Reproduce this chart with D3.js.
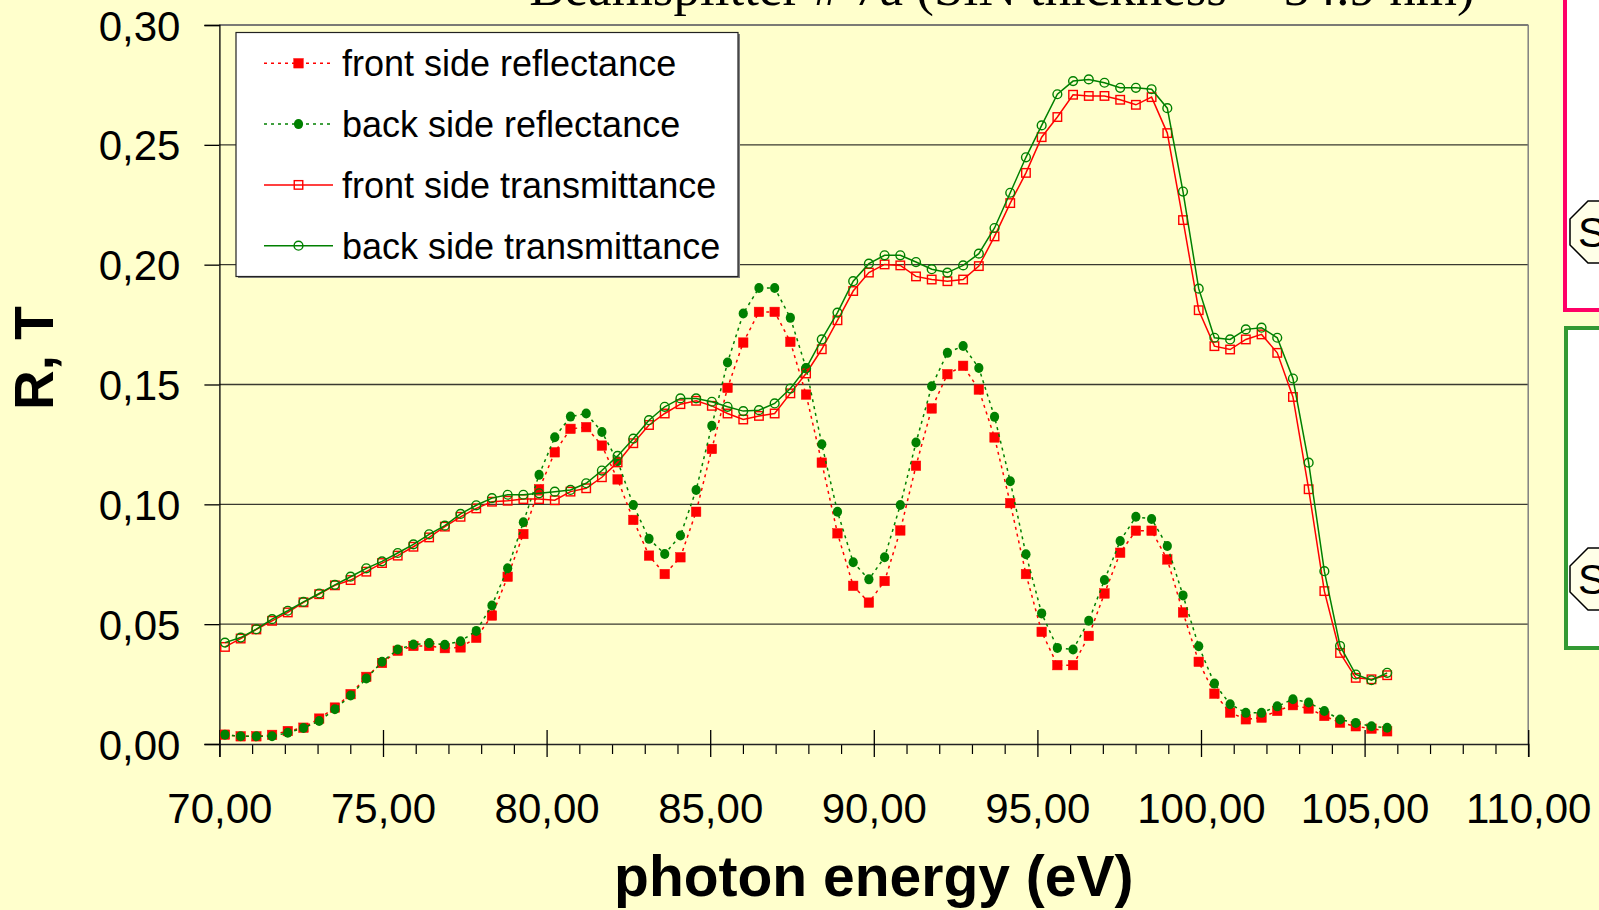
<!DOCTYPE html>
<html>
<head>
<meta charset="utf-8">
<script src="https://cdn.jsdelivr.net/npm/d3@7"></script>
<style>
  html, body { margin: 0; padding: 0; background: #FFFFCC; }
  svg { display: block; }
  text { font-family: "Liberation Sans", Arial, sans-serif; }
</style>
</head>
<body>
<svg id="chart" width="1599" height="910"></svg>
<script>
// ---- data ----
const energy = [70.17,70.65,71.13,71.61,72.09,72.57,73.05,73.53,74.01,74.49,74.97,75.45,75.93,76.41,76.89,77.37,77.85,78.33,78.81,79.29,79.77,80.25,80.73,81.21,81.69,82.17,82.65,83.13,83.61,84.09,84.57,85.05,85.53,86.01,86.49,86.97,87.45,87.93,88.41,88.89,89.37,89.85,90.33,90.81,91.29,91.77,92.25,92.73,93.21,93.69,94.17,94.65,95.13,95.61,96.09,96.57,97.05,97.53,98.01,98.49,98.97,99.45,99.93,100.41,100.89,101.37,101.85,102.33,102.81,103.29,103.77,104.25,104.73,105.21,105.69];

const frontReflectance = [0.0039,0.0032,0.0032,0.0038,0.0054,0.0068,0.0106,0.0152,0.0208,0.0280,0.0338,0.0389,0.0409,0.0409,0.0400,0.0403,0.0443,0.0536,0.0698,0.0876,0.1063,0.1217,0.1315,0.1322,0.1245,0.1104,0.0935,0.0786,0.0709,0.0779,0.0969,0.1231,0.1486,0.1675,0.1803,0.1803,0.1678,0.1458,0.1174,0.0879,0.0660,0.0590,0.0680,0.0891,0.1161,0.1400,0.1543,0.1578,0.1479,0.1279,0.1005,0.0709,0.0468,0.0329,0.0329,0.0451,0.0628,0.0798,0.0890,0.0890,0.0770,0.0549,0.0343,0.0210,0.0131,0.0103,0.0110,0.0138,0.0162,0.0148,0.0117,0.0089,0.0074,0.0064,0.0053];

const backReflectance = [0.0039,0.0032,0.0032,0.0032,0.0047,0.0067,0.0096,0.0145,0.0202,0.0273,0.0343,0.0394,0.0415,0.0421,0.0414,0.0429,0.0472,0.0578,0.0733,0.0925,0.1123,0.1280,0.1366,0.1379,0.1302,0.1180,0.0997,0.0856,0.0793,0.0870,0.1060,0.1328,0.1592,0.1796,0.1903,0.1903,0.1778,0.1569,0.1251,0.0969,0.0758,0.0687,0.0779,0.0997,0.1258,0.1493,0.1632,0.1661,0.1569,0.1365,0.1096,0.0792,0.0545,0.0401,0.0394,0.0514,0.0684,0.0847,0.0948,0.0939,0.0826,0.0620,0.0408,0.0252,0.0166,0.0130,0.0130,0.0157,0.0187,0.0173,0.0138,0.0102,0.0088,0.0074,0.0068];

const frontTransmittance = [0.0405,0.0440,0.0478,0.0514,0.0549,0.0591,0.0625,0.0662,0.0684,0.0719,0.0755,0.0786,0.0823,0.0862,0.0907,0.0948,0.0983,0.1011,0.1015,0.1022,0.1022,0.1017,0.1053,0.1067,0.1113,0.1175,0.1255,0.1331,0.1379,0.1418,0.1432,0.1411,0.1379,0.1354,0.1369,0.1379,0.1463,0.1546,0.1647,0.1768,0.1890,0.1967,0.2001,0.1997,0.1951,0.1938,0.1931,0.1938,0.1994,0.2118,0.2257,0.2383,0.2532,0.2616,0.2709,0.2704,0.2704,0.2688,0.2667,0.2699,0.2549,0.2186,0.1810,0.1660,0.1646,0.1688,0.1709,0.1632,0.1448,0.1063,0.0638,0.0380,0.0276,0.0270,0.0287];

const backTransmittance = [0.0423,0.0444,0.0479,0.0521,0.0556,0.0593,0.0628,0.0664,0.0698,0.0733,0.0762,0.0797,0.0833,0.0875,0.0911,0.0960,0.0996,0.1026,0.1040,0.1040,0.1046,0.1053,0.1060,0.1088,0.1141,0.1202,0.1274,0.1351,0.1407,0.1442,0.1442,0.1428,0.1407,0.1389,0.1393,0.1421,0.1483,0.1567,0.1688,0.1800,0.1931,0.2004,0.2039,0.2039,0.2011,0.1981,0.1967,0.1997,0.2046,0.2153,0.2300,0.2448,0.2581,0.2711,0.2766,0.2773,0.2759,0.2738,0.2738,0.2732,0.2653,0.2305,0.1900,0.1695,0.1688,0.1730,0.1737,0.1695,0.1525,0.1174,0.0721,0.0409,0.0290,0.0266,0.0297];

const seriesNames = ["front side reflectance", "back side reflectance", "front side transmittance", "back side transmittance"];
const yTicks = [0.00, 0.05, 0.10, 0.15, 0.20, 0.25, 0.30];
const xTicks = [70, 75, 80, 85, 90, 95, 100, 105, 110];
const xMinorTicks = [71,72,73,74,76,77,78,79,81,82,83,84,86,87,88,89,91,92,93,94,96,97,98,99,101,102,103,104,106,107,108,109];
const titleText = "Beamsplitter # 7a (SiN thickness = 54.9 nm)";
const xTitle = "photon energy (eV)";
const yTitle = "R, T";

(function () {
  const svg = d3.select("#chart");
  const W = 1599, H = 910;
  const pL = 219.4, pR = 1528.2, pT = 25, pB = 744;
  const RED = "#FF0000", GREEN = "#008000";

  const x = d3.scaleLinear().domain([70, 110]).range([pL, pR]);
  const y = d3.scaleLinear().domain([0, 0.30]).range([pB, pT]);
  const fmt = v => d3.format(".2f")(v).replace(".", ",");

  svg.append("rect").attr("width", W).attr("height", H).attr("fill", "#FFFFCC");

  // title (cut off at top)
  svg.append("text").attr("x", 1002).attr("y", 5)
    .attr("text-anchor", "middle")
    .style("font-family", "'Liberation Serif', 'Times New Roman', serif")
    .style("font-size", "53px").attr("fill", "#000").text(titleText);

  // right-side decorations (partially visible boxes)
  svg.append("rect").attr("x", 1565).attr("y", -10).attr("width", 80).attr("height", 320)
    .attr("fill", "#FFFFFF").attr("stroke", "#FF0066").attr("stroke-width", 4);
  svg.append("rect").attr("x", 1566).attr("y", 328).attr("width", 80).attr("height", 320)
    .attr("fill", "#FFFFFF").attr("stroke", "#339933").attr("stroke-width", 4);
  function octagon(cy) {
    const x0 = 1570, h = 62, c = 18, r = 1660;
    const pts = [[x0 + c, cy - h/2], [r, cy - h/2], [r, cy + h/2], [x0 + c, cy + h/2], [x0, cy + h/2 - c], [x0, cy - h/2 + c]];
    svg.append("polygon").attr("points", pts.map(p => p.join(",")).join(" "))
      .attr("fill", "#FFFFE8").attr("stroke", "#000").attr("stroke-width", 1.5);
    svg.append("text").attr("x", 1578).attr("y", cy + 15).style("font-size", "42px").attr("fill", "#000").text("S");
  }
  octagon(232);
  octagon(579);

  // gridlines
  svg.append("g").selectAll("line").data(yTicks.filter(d => d > 0)).join("line")
    .attr("x1", pL).attr("x2", pR)
    .attr("y1", d => y(d)).attr("y2", d => y(d))
    .attr("stroke", "#3a3a30").attr("stroke-width", 1.3);

  // plot border (top & right)
  svg.append("line").attr("x1", pR).attr("x2", pR).attr("y1", pT).attr("y2", pB)
    .attr("stroke", "#808080").attr("stroke-width", 1.5);
  svg.append("line").attr("x1", pL).attr("x2", pR).attr("y1", pT).attr("y2", pT)
    .attr("stroke", "#808080").attr("stroke-width", 1.5);

  // y axis
  const yAxis = svg.append("g").attr("transform", `translate(${pL},0)`)
    .call(d3.axisLeft(y).tickValues(yTicks).tickSize(15).tickFormat(fmt));
  yAxis.select(".domain").attr("stroke", "#000").attr("stroke-width", 1.3);
  yAxis.selectAll(".tick line").attr("stroke", "#000").attr("stroke-width", 1.3);
  yAxis.selectAll(".tick text").attr("x", -39).attr("dy", null).attr("y", 15)
    .style("font-size", "42px").style("font-family", "'Liberation Sans', Arial, sans-serif").attr("fill", "#000");

  // x axis: minor ticks
  const xMinor = svg.append("g").attr("transform", `translate(0,${pB})`)
    .call(d3.axisBottom(x).tickValues(xMinorTicks).tickSize(10).tickFormat(""));
  xMinor.select(".domain").remove();
  xMinor.selectAll(".tick line").attr("stroke", "#000").attr("stroke-width", 1.2);

  // x axis: major ticks crossing the axis
  const xAxis = svg.append("g").attr("transform", `translate(0,${pB})`)
    .call(d3.axisBottom(x).tickValues(xTicks).tickSize(13).tickFormat(fmt));
  xAxis.select(".domain").attr("stroke", "#222").attr("stroke-width", 1.6);
  xAxis.selectAll(".tick line").attr("y1", -14).attr("y2", 13).attr("stroke", "#000").attr("stroke-width", 1.3);
  xAxis.selectAll(".tick text").attr("y", 79).attr("dy", null)
    .style("font-size", "42px").style("font-family", "'Liberation Sans', Arial, sans-serif").attr("fill", "#000");

  // axis titles
  svg.append("text").attr("x", (pL + pR) / 2).attr("y", 896).attr("text-anchor", "middle")
    .style("font-size", "57px").style("font-weight", "bold").attr("fill", "#000").text(xTitle);
  svg.append("text").attr("transform", "translate(53,358) rotate(-90)").attr("text-anchor", "middle")
    .style("font-size", "55px").style("font-weight", "bold").attr("fill", "#000").text(yTitle);

  // ---- series ----
  const series = [
    { name: seriesNames[0], values: frontReflectance, color: RED, dash: "3,4", marker: "square", filled: true },
    { name: seriesNames[1], values: backReflectance, color: GREEN, dash: "3,4", marker: "circle", filled: true },
    { name: seriesNames[2], values: frontTransmittance, color: RED, dash: null, marker: "square", filled: false },
    { name: seriesNames[3], values: backTransmittance, color: GREEN, dash: null, marker: "circle", filled: false }
  ];

  const line = d3.line().x(d => x(d[0])).y(d => y(d[1]));

  function drawMarker(g, s, cx, cy) {
    if (s.marker === "square") {
      const sz = s.filled ? 9.5 : 8.5;
      g.append("rect").attr("x", cx - sz/2).attr("y", cy - sz/2).attr("width", sz).attr("height", sz)
        .attr("fill", s.filled ? s.color : "none").attr("stroke", s.color).attr("stroke-width", s.filled ? 0.5 : 1.4);
    } else if (s.filled) {
      g.append("ellipse").attr("cx", cx).attr("cy", cy).attr("rx", 4.6).attr("ry", 5)
        .attr("fill", s.color).attr("stroke", "none");
    } else {
      g.append("circle").attr("cx", cx).attr("cy", cy).attr("r", 4.4)
        .attr("fill", "none").attr("stroke", s.color).attr("stroke-width", 1.4);
    }
  }

  series.forEach(s => {
    const pts = energy.map((e, i) => [e, s.values[i]]);
    const g = svg.append("g");
    g.append("path").datum(pts).attr("d", line).attr("fill", "none")
      .attr("stroke", s.color).attr("stroke-width", 1.5)
      .attr("stroke-dasharray", s.dash);
    pts.forEach(p => drawMarker(g, s, x(p[0]), y(p[1])));
  });

  // ---- legend ----
  const lg = svg.append("g");
  lg.append("rect").attr("x", 238).attr("y", 34).attr("width", 502).attr("height", 244).attr("fill", "#7f7f7f");
  lg.append("rect").attr("x", 236).attr("y", 32.5).attr("width", 502).attr("height", 244)
    .attr("fill", "#FFFFFF").attr("stroke", "#222").attr("stroke-width", 1.2);
  series.forEach((s, i) => {
    const cy = 63.3 + i * 60.8;
    lg.append("line").attr("x1", 264).attr("x2", 333).attr("y1", cy).attr("y2", cy)
      .attr("stroke", s.color).attr("stroke-width", 1.5).attr("stroke-dasharray", s.dash);
    drawMarker(lg, s, 298.5, cy);
    lg.append("text").attr("x", 342).attr("y", cy + 13).style("font-size", "36px").attr("fill", "#000").text(s.name);
  });
})();
</script>
</body>
</html>
